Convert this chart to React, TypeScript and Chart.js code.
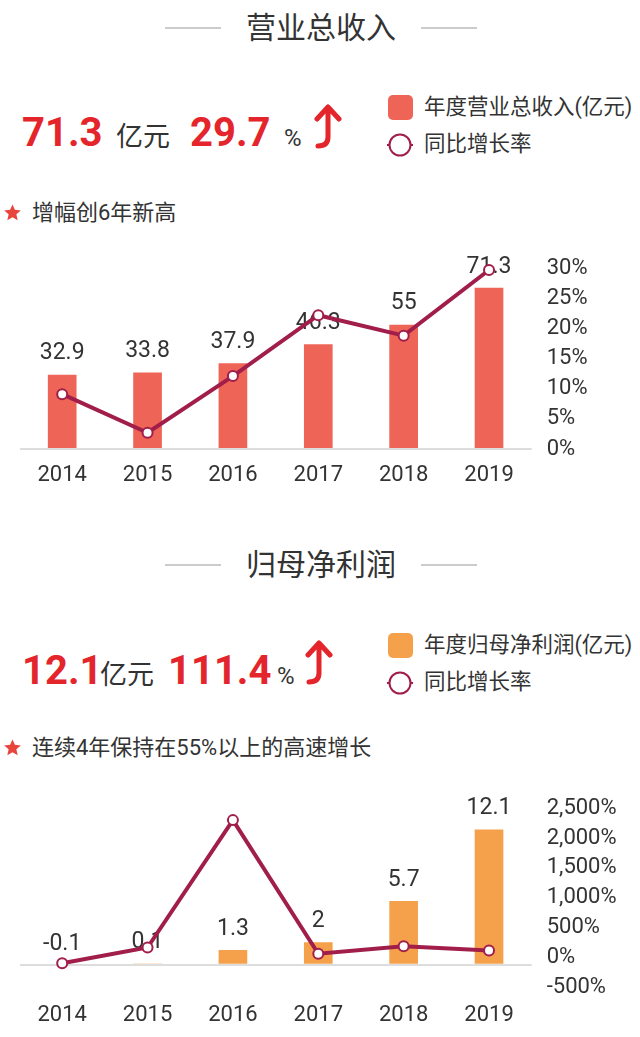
import React, { useEffect, useRef } from 'react';
import { Chart, registerables } from 'chart.js';

Chart.register(...registerables);

const years = ['2014', '2015', '2016', '2017', '2018', '2019'];
const revenue = [32.9, 33.8, 37.9, 46.3, 55, 71.3];
const revenueGrowth = [9.1, 2.7, 12.1, 22.2, 18.8, 29.7];
const profit = [-0.1, 0.1, 1.3, 2, 5.7, 12.1];
const profitGrowth = [-100, 162, 2300, 58, 185, 111.4];

const W = 640;
const FONT = "Roboto, 'Noto Sans CJK SC', sans-serif";
const RED = '#e4252b';
const DARK = '#333333';
const LINE = '#a21e4a';
const BAR1 = '#ee6557';
const BAR2 = '#f5a14b';

type ComboProps = {
  top: number;
  height: number;
  bars: number[];
  line: number[];
  barColor: string;
  leftMin: number;
  leftMax: number;
  leftStep: number;
  rightMin: number;
  rightMax: number;
  rightStep: number;
  padTop: number;
  xHeight: number;
  xPad: number;
};

function ComboChart(p: ComboProps) {
  const ref = useRef<HTMLCanvasElement>(null);
  useEffect(() => {
    if (!ref.current) return;
    const labelPlugin = {
      id: 'barLabels',
      afterDatasetDraw(chart: any, args: any) {
        if (args.index !== 0) return;
        const ctx = chart.ctx;
        const meta = chart.getDatasetMeta(0);
        ctx.save();
        ctx.font = `23px ${FONT}`;
        ctx.fillStyle = DARK;
        ctx.textAlign = 'center';
        ctx.textBaseline = 'middle';
        meta.data.forEach((el: any, i: number) => {
          const q = el.getProps(['x', 'y', 'base'], true);
          const t = Math.min(q.y, q.base);
          ctx.fillText(String(p.bars[i]), q.x, t - 21);
        });
        ctx.restore();
      },
    };
    const chart = new Chart(ref.current, {
      type: 'bar',
      data: {
        labels: years,
        datasets: [
          {
            type: 'bar',
            data: p.bars,
            backgroundColor: p.barColor,
            yAxisID: 'y',
            order: 1,
            categoryPercentage: 1,
            barPercentage: 0.336,
          } as any,
          {
            type: 'line',
            data: p.line,
            yAxisID: 'y1',
            order: 0,
            borderColor: LINE,
            borderWidth: 4,
            pointRadius: 5,
            pointBackgroundColor: '#ffffff',
            pointBorderColor: LINE,
            pointBorderWidth: 2,
            tension: 0,
            clip: false,
          } as any,
        ],
      },
      options: {
        animation: false,
        responsive: false,
        maintainAspectRatio: false,
        layout: { padding: { top: p.padTop, left: 19.5, right: 0, bottom: 0 } },
        plugins: { legend: { display: false }, tooltip: { enabled: false } },
        scales: {
          x: {
            grid: { display: false },
            border: { display: false },
            ticks: { color: DARK, font: { family: FONT, size: 22 }, padding: p.xPad },
            afterFit: (s: any) => {
              s.height = p.xHeight;
            },
          },
          y: {
            position: 'left',
            min: p.leftMin,
            max: p.leftMax,
            ticks: { display: false, stepSize: p.leftStep },
            border: { display: false },
            grid: {
              drawTicks: false,
              lineWidth: 2,
              color: (c: any) => (c.tick && c.tick.value === 0 ? '#dddddd' : 'rgba(0,0,0,0)'),
            },
            afterFit: (s: any) => {
              s.width = 0;
            },
          },
          y1: {
            position: 'right',
            min: p.rightMin,
            max: p.rightMax,
            ticks: {
              stepSize: p.rightStep,
              color: DARK,
              font: { family: FONT, size: 22 },
              padding: 15,
              callback: (v: any) => Number(v).toLocaleString('en-US') + '%',
            },
            grid: { display: false, drawTicks: false },
            border: { display: false },
            afterFit: (s: any) => {
              s.width = W - 531.7;
            },
          },
        },
      } as any,
      plugins: [labelPlugin],
    });
    return () => chart.destroy();
  }, []);
  return (
    <canvas
      ref={ref}
      width={W}
      height={p.height}
      style={{ position: 'absolute', left: 0, top: p.top, width: W, height: p.height }}
    />
  );
}

function Title({ text, cy }: { text: string; cy: number }) {
  return (
    <>
      <div style={{ position: 'absolute', left: 165, top: cy - 1, width: 56, height: 1.5, background: '#cccccc' }} />
      <div style={{ position: 'absolute', left: 421, top: cy - 1, width: 56, height: 1.5, background: '#cccccc' }} />
      <div
        style={{
          position: 'absolute',
          left: 221,
          width: 200,
          top: cy - 21,
          height: 42,
          lineHeight: '42px',
          textAlign: 'center',
          fontSize: 30,
          color: DARK,
          fontFamily: FONT,
        }}
      >
        {text}
      </div>
    </>
  );
}

function Arrow({ x, y }: { x: number; y: number }) {
  return (
    <svg style={{ position: 'absolute', left: x, top: y }} width={32} height={46} viewBox="0 0 32 46">
      <path
        d="M5 15 L16 3 L27 15 M16 4 L16 33 Q16 42 6 42"
        fill="none"
        stroke={RED}
        strokeWidth={5}
        strokeLinecap="round"
        strokeLinejoin="round"
      />
    </svg>
  );
}

function BigRow({ top, parts }: { top: number; parts: { t: string; w: number; big: boolean }[] }) {
  return (
    <div style={{ position: 'absolute', left: 22, top, display: 'flex', alignItems: 'baseline', whiteSpace: 'nowrap' }}>
      {parts.map((pt, i) => (
        <span
          key={i}
          style={{
            display: 'inline-block',
            width: pt.w,
            fontFamily: FONT,
            fontWeight: pt.big ? 700 : 400,
            fontSize: pt.big ? 40 : pt.t === '%' ? 24 : 27,
            lineHeight: pt.big ? '40px' : '24px',
            color: pt.big ? RED : DARK,
          }}
        >
          {pt.t}
        </span>
      ))}
    </div>
  );
}

function Legend({ top, color, text }: { top: number; color: string; text: string }) {
  return (
    <>
      <div style={{ position: 'absolute', left: 388, top, width: 25, height: 25, borderRadius: 5, background: color }} />
      <div
        style={{
          position: 'absolute',
          left: 424,
          top: top - 3,
          height: 30,
          lineHeight: '30px',
          fontSize: 21.5,
          color: DARK,
          fontFamily: FONT,
          whiteSpace: 'nowrap',
        }}
      >
        {text}
      </div>
      <svg style={{ position: 'absolute', left: 386, top: top + 36 }} width={28} height={28} viewBox="0 0 28 28">
        <line x1={1} y1={14} x2={27} y2={14} stroke={LINE} strokeWidth={2} />
        <circle cx={14} cy={14} r={10.5} fill="#ffffff" stroke={LINE} strokeWidth={2} />
      </svg>
      <div
        style={{
          position: 'absolute',
          left: 424,
          top: top + 34,
          height: 30,
          lineHeight: '30px',
          fontSize: 21.5,
          color: DARK,
          fontFamily: FONT,
          whiteSpace: 'nowrap',
        }}
      >
        同比增长率
      </div>
    </>
  );
}

function Note({ cy, text }: { cy: number; text: string }) {
  return (
    <>
      <svg style={{ position: 'absolute', left: 3, top: cy - 9 }} width={19} height={17} viewBox="0 0 24 22">
        <path
          d="M12 0.5 L15.1 7.6 L22.8 8.3 L17 13.4 L18.7 21 L12 17 L5.3 21 L7 13.4 L1.2 8.3 L8.9 7.6 Z"
          fill="#e8453c"
        />
      </svg>
      <div
        style={{
          position: 'absolute',
          left: 32,
          top: cy - 16,
          height: 32,
          lineHeight: '32px',
          fontSize: 22,
          color: DARK,
          fontFamily: FONT,
          whiteSpace: 'nowrap',
        }}
      >
        {text}
      </div>
    </>
  );
}

export default function App() {
  return (
    <div
      style={{
        position: 'absolute',
        left: 0,
        top: 0,
        width: W,
        height: 1037,
        background: '#ffffff',
        overflow: 'hidden',
        fontFamily: FONT,
      }}
    >
      <Title text="营业总收入" cy={28} />
      <BigRow
        top={113}
        parts={[
          { t: '71.3', w: 94, big: true },
          { t: '亿元', w: 74, big: false },
          { t: '29.7', w: 94, big: true },
          { t: '%', w: 30, big: false },
        ]}
      />
      <Arrow x={312} y={104} />
      <Legend top={95} color={BAR1} text="年度营业总收入(亿元)" />
      <Note cy={213} text="增幅创6年新高" />
      <ComboChart
        top={240}
        height={260}
        bars={revenue}
        line={revenueGrowth}
        barColor={BAR1}
        leftMin={0}
        leftMax={80}
        leftStep={10}
        rightMin={0}
        rightMax={30}
        rightStep={5}
        padTop={23}
        xHeight={51}
        xPad={5}
      />

      <Title text="归母净利润" cy={565} />
      <BigRow
        top={651}
        parts={[
          { t: '12.1', w: 78, big: true },
          { t: '亿元', w: 68, big: false },
          { t: '111.4', w: 109, big: true },
          { t: '%', w: 28, big: false },
        ]}
      />
      <Arrow x={303} y={640} />
      <Legend top={633} color={BAR2} text="年度归母净利润(亿元)" />
      <Note cy={748} text="连续4年保持在55%以上的高速增长" />
      <ComboChart
        top={780}
        height={257}
        bars={profit}
        line={profitGrowth}
        barColor={BAR2}
        leftMin={-2}
        leftMax={14}
        leftStep={2}
        rightMin={-500}
        rightMax={2500}
        rightStep={500}
        padTop={22}
        xHeight={50}
        xPad={7}
      />
    </div>
  );
}
